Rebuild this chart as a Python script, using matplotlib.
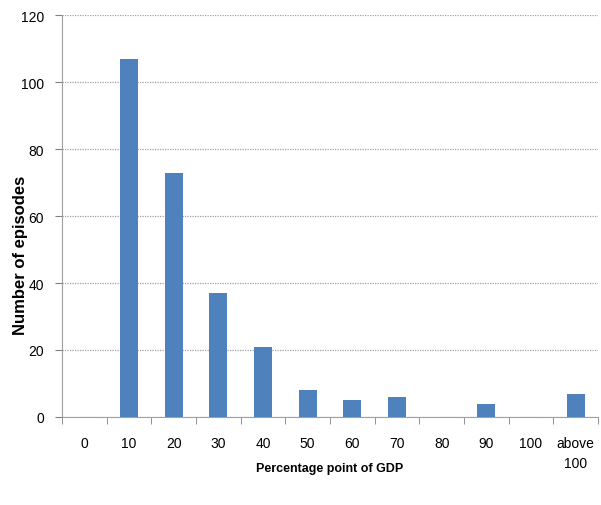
import matplotlib
matplotlib.use("Agg")
import matplotlib.pyplot as plt
import numpy as np

categories = ["0", "10", "20", "30", "40", "50", "60", "70", "80", "90", "100", "above\n100"]
episodes = [0, 107, 73, 37, 21, 8, 5, 6, 0, 4, 0, 7]

plt.rcParams['font.family'] = ['Liberation Sans', 'DejaVu Sans']

fig = plt.figure(figsize=(6.01, 5.06), dpi=100)
ax = fig.add_axes([0.103, 0.174, 0.892, 0.794])

x = np.arange(len(categories))
ax.bar(x, episodes, width=0.4, color='#4f81bd', zorder=3)

ax.set_xlim(-0.5, len(categories) - 0.5)
ax.set_ylim(0, 120)
ax.set_yticks(np.arange(0, 121, 20))
ax.yaxis.grid(True, linestyle=(0, (1, 1)), color='#a0a0a0', linewidth=0.9, zorder=0)

ax.set_xticks(x)
ax.set_xticklabels(categories, fontsize=10, linespacing=1.5)
ax.tick_params(axis='x', which='major', length=0, pad=14)
ax.set_xticks(np.arange(-0.5, len(categories), 1), minor=True)
ax.tick_params(axis='x', which='minor', length=5, color='#808080')
ax.tick_params(axis='y', length=5, color='#808080', labelsize=10, pad=8)

for s in ['top', 'right']:
    ax.spines[s].set_visible(False)
for s in ['left', 'bottom']:
    ax.spines[s].set_color('#a0a0a0')

ax.set_xlabel('Percentage point of GDP', fontsize=9, fontweight='bold')
ax.xaxis.set_label_coords(0.5, -0.112)
ax.set_ylabel('Number of episodes', fontsize=12, fontweight='bold')
ax.yaxis.set_label_coords(-0.063, 0.405)

fig.savefig('out.png', dpi=100)
